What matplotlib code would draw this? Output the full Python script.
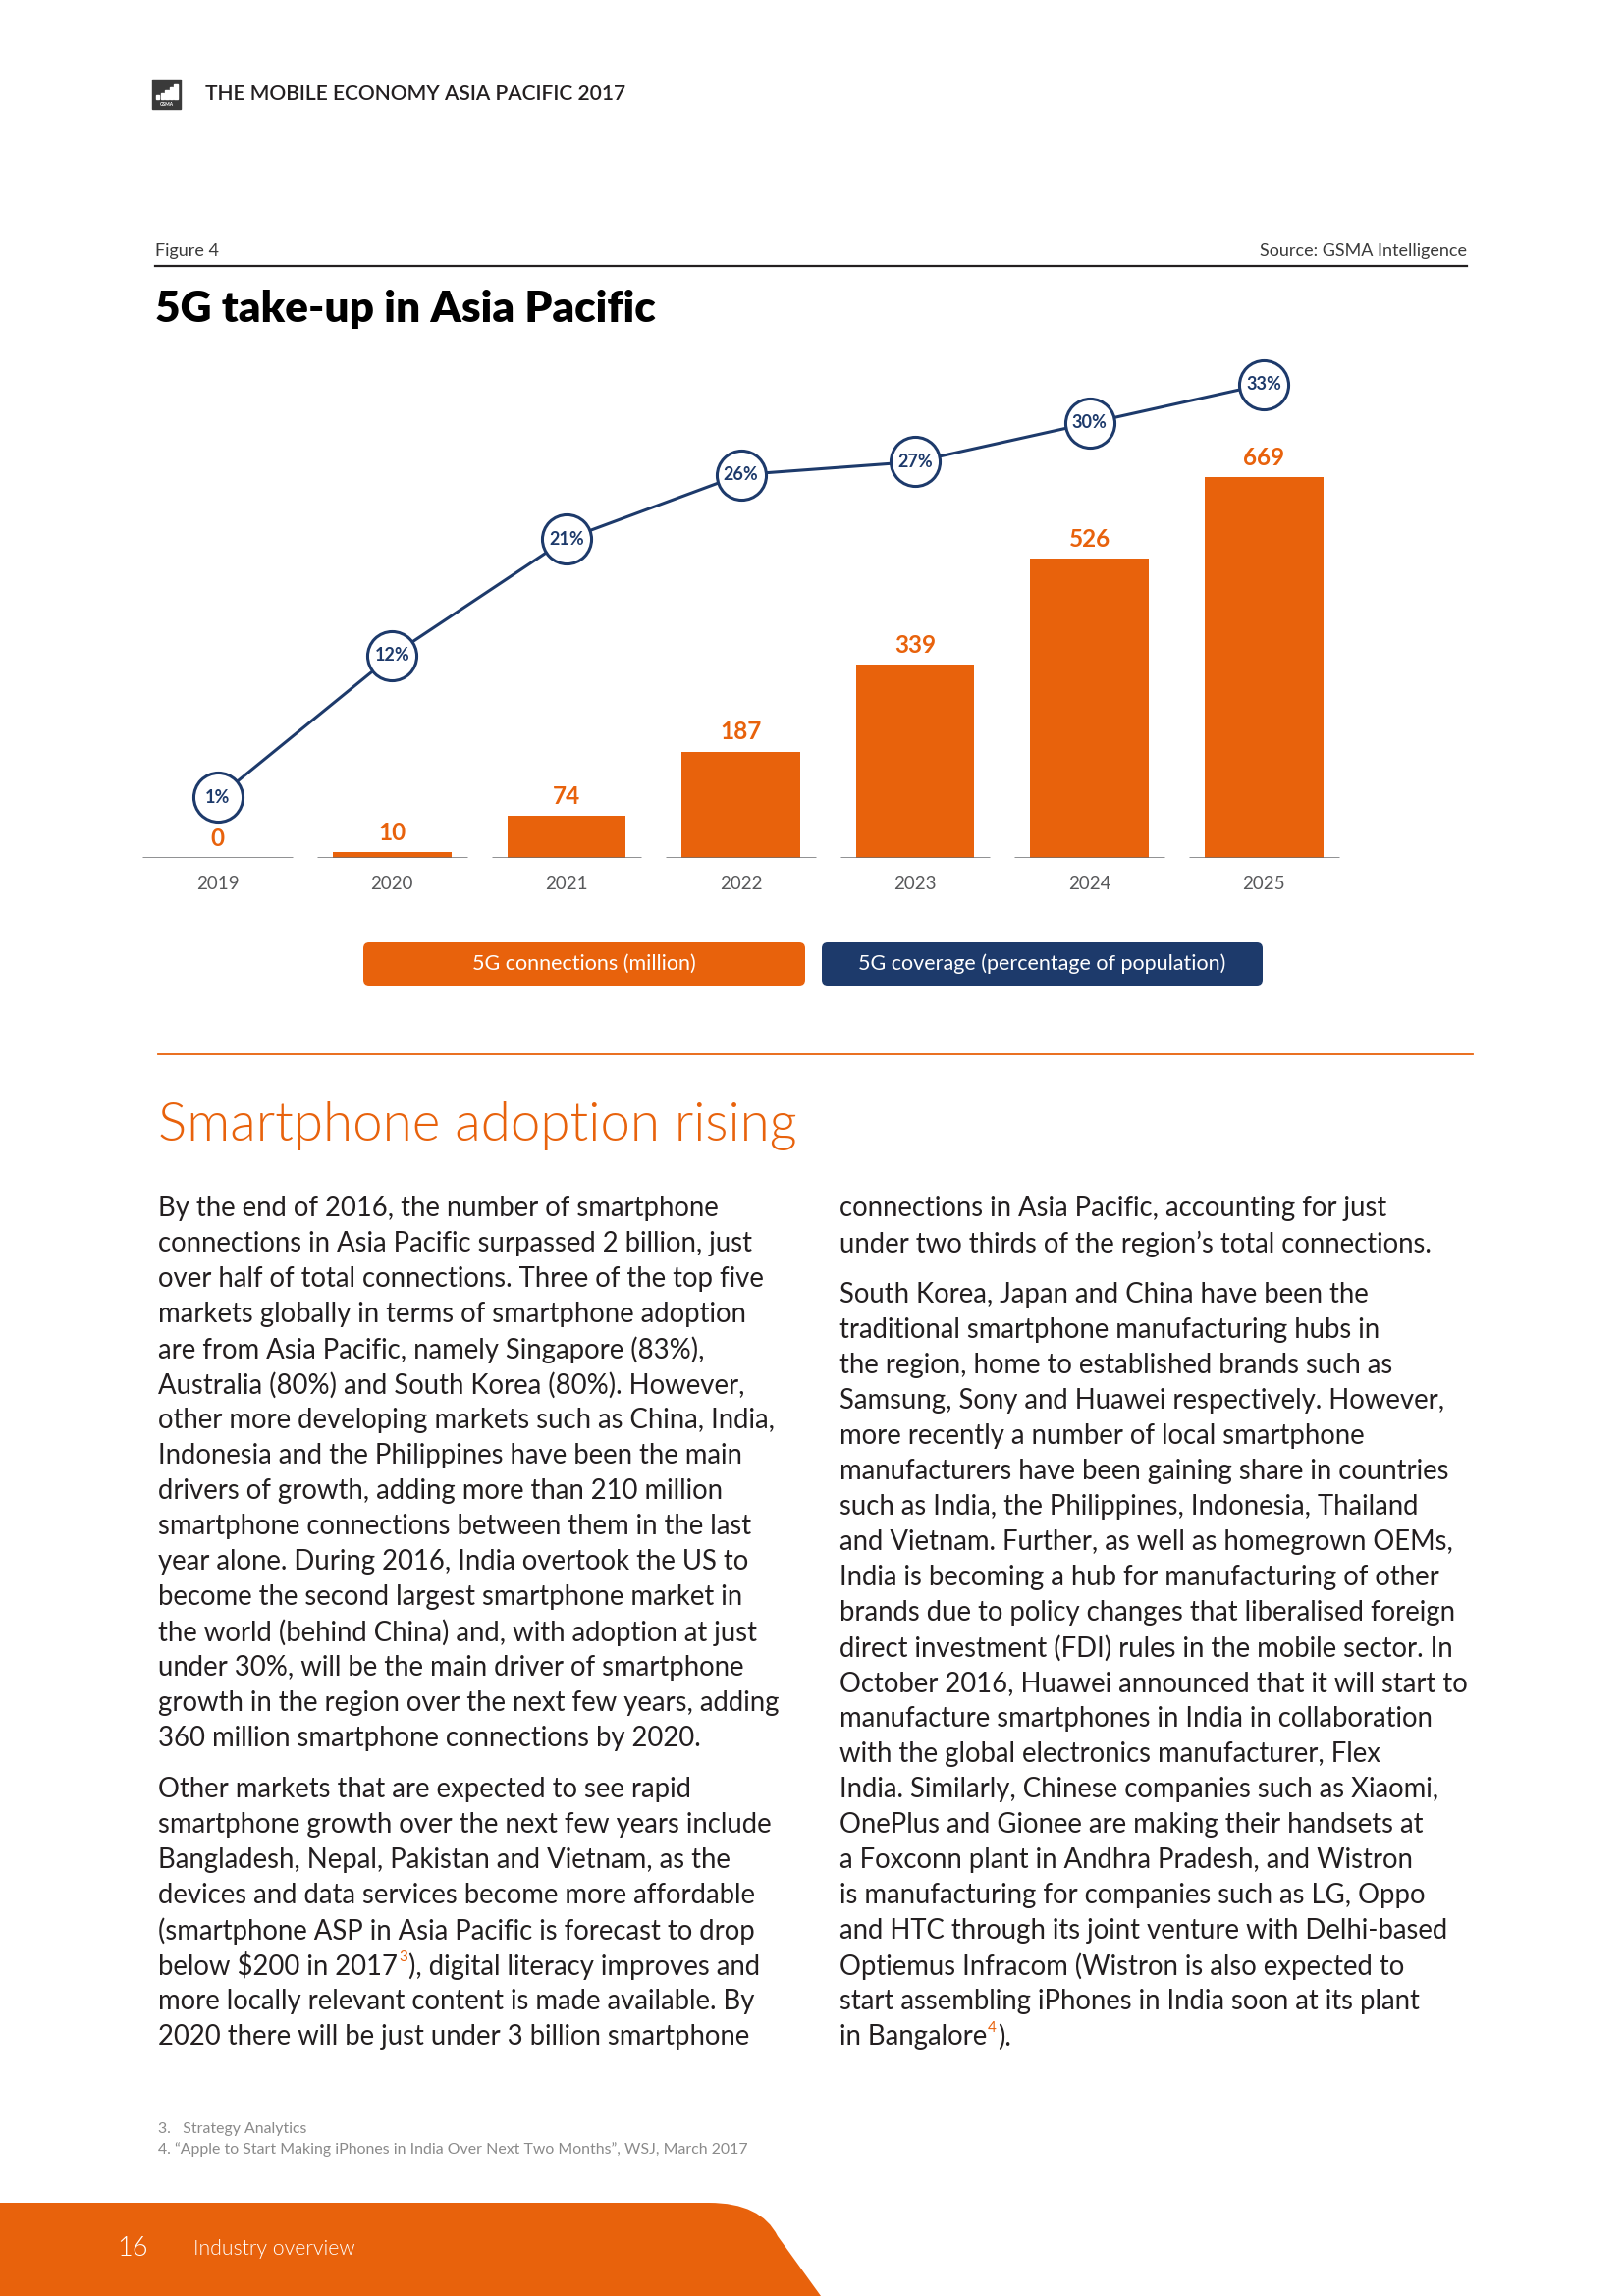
import matplotlib.pyplot as plt
from matplotlib.patches import FancyBboxPatch, Rectangle, PathPatch
from matplotlib.path import Path

# chart data
years = ["2019", "2020", "2021", "2022", "2023", "2024", "2025"]
connections = [0, 10, 74, 187, 339, 526, 669]        # million
coverage = [1, 12, 21, 26, 27, 30, 33]               # % of population

series_names = ["5G connections (million)", "5G coverage (percentage of population)"]

left_col = [
    "By the end of 2016, the number of smartphone",
    "connections in Asia Pacific surpassed 2 billion, just",
    "over half of total connections. Three of the top five",
    "markets globally in terms of smartphone adoption",
    "are from Asia Pacific, namely Singapore (83%),",
    "Australia (80%) and South Korea (80%). However,",
    "other more developing markets such as China, India,",
    "Indonesia and the Philippines have been the main",
    "drivers of growth, adding more than 210 million",
    "smartphone connections between them in the last",
    "year alone. During 2016, India overtook the US to",
    "become the second largest smartphone market in",
    "the world (behind China) and, with adoption at just",
    "under 30%, will be the main driver of smartphone",
    "growth in the region over the next few years, adding",
    "360 million smartphone connections by 2020.",
    None,
    "Other markets that are expected to see rapid",
    "smartphone growth over the next few years include",
    "Bangladesh, Nepal, Pakistan and Vietnam, as the",
    "devices and data services become more affordable",
    "(smartphone ASP in Asia Pacific is forecast to drop",
    ("below $200 in 2017", "3", "), digital literacy improves and"),
    "more locally relevant content is made available. By",
    "2020 there will be just under 3 billion smartphone",
]

right_col = [
    "connections in Asia Pacific, accounting for just",
    "under two thirds of the region\u2019s total connections.",
    None,
    "South Korea, Japan and China have been the",
    "traditional smartphone manufacturing hubs in",
    "the region, home to established brands such as",
    "Samsung, Sony and Huawei respectively. However,",
    "more recently a number of local smartphone",
    "manufacturers have been gaining share in countries",
    "such as India, the Philippines, Indonesia, Thailand",
    "and Vietnam. Further, as well as homegrown OEMs,",
    "India is becoming a hub for manufacturing of other",
    "brands due to policy changes that liberalised foreign",
    "direct investment (FDI) rules in the mobile sector. In",
    "October 2016, Huawei announced that it will start to",
    "manufacture smartphones in India in collaboration",
    "with the global electronics manufacturer, Flex",
    "India. Similarly, Chinese companies such as Xiaomi,",
    "OnePlus and Gionee are making their handsets at",
    "a Foxconn plant in Andhra Pradesh, and Wistron",
    "is manufacturing for companies such as LG, Oppo",
    "and HTC through its joint venture with Delhi-based",
    "Optiemus Infracom (Wistron is also expected to",
    "start assembling iPhones in India soon at its plant",
    ("in Bangalore", "4", ")."),
]

footnotes = [
    "3.   Strategy Analytics",
    "4. \u201cApple to Start Making iPhones in India Over Next Two Months\u201d, WSJ, March 2017",
]

ORANGE = "#e8620c"
NAVY = "#1d3a6b"
DARK = "#231f20"
GREY = "#6d6e71"
BODY = 19.8

plt.rcParams["font.family"] = ["Lato", "DejaVu Sans"]

W, H = 1654, 2339
fig = plt.figure(figsize=(W / 100, H / 100), dpi=100)
page = fig.add_axes([0, 0, 1, 1])
page.set_xlim(0, W)
page.set_ylim(H, 0)
page.axis("off")

# header
page.add_patch(Rectangle((155, 81), 29, 30, color="#3a3a3a"))
for i, hgt in enumerate([4, 6, 9, 12, 15]):
    page.add_patch(Rectangle((159 + i * 4.6, 101 - hgt), 3.4, hgt, color="white"))
page.text(169.5, 106, "GSMA", fontsize=3.5, color="white", ha="center", va="center", fontweight="bold")
page.text(209, 96, "THE MOBILE ECONOMY ASIA PACIFIC 2017", fontsize=15.1, color=DARK,
          va="center", fontweight="semibold")

page.text(158, 256, "Figure 4", fontsize=13, color="#3a3a3a", va="center")
page.text(1494, 256, "Source: GSMA Intelligence", fontsize=13, color="#3a3a3a", va="center", ha="right")
page.plot([158, 1494], [271, 271], color=DARK, lw=1.6)
page.text(158, 315, "5G take-up in Asia Pacific", fontsize=31.8, color="black", va="center",
          fontweight="heavy")

# chart
ax = fig.add_axes([133 / W, 1 - 874 / H, (1376 - 133) / W, (874 - 360) / H])
xs = list(range(len(years)))
ax.bar(xs, connections, width=0.68, color=ORANGE, zorder=2)
for x in xs:
    ax.plot([x - 0.43, x + 0.43], [0, 0], color=GREY, lw=1.8, zorder=3, solid_capstyle="butt")
for x, v in zip(xs, connections):
    ax.annotate(str(v), (x, v), xytext=(0, 6), textcoords="offset points", ha="center",
                va="bottom", fontsize=17.5, color=ORANGE, fontweight="bold")
ax.set_xlim(-0.5, len(years) - 0.5)
ax.set_ylim(0, 886)
ax.set_xticks(xs, years)
ax.tick_params(axis="x", length=0, pad=13, labelsize=13.5, labelcolor="#58595b")
ax.set_yticks([])
for s in ax.spines.values():
    s.set_visible(False)
ax.patch.set_alpha(0)

ax2 = ax.twinx()
ax2.plot(xs, coverage, color=NAVY, lw=2.2, zorder=2)
ax2.scatter(xs, coverage, s=1300, facecolor="white", edgecolor=NAVY, linewidth=2.2, zorder=3)
for x, p in zip(xs, coverage):
    ax2.text(x, p, f"{p}%", ha="center", va="center", fontsize=13, color=NAVY,
             fontweight="bold", zorder=4)
ax2.set_ylim(-3.7, 35.4)
ax2.set_yticks([])
for s in ax2.spines.values():
    s.set_visible(False)

# legend boxes
for (x0, x1), name, col in zip([(370, 820), (837, 1286)], series_names, [ORANGE, NAVY]):
    page.add_patch(FancyBboxPatch((x0, 960), x1 - x0, 44, boxstyle="round,pad=0,rounding_size=6",
                                  color=col, lw=0))
    page.text((x0 + x1) / 2, 982, name, ha="center", va="center", fontsize=15.5, color="white")

# section
page.plot([161, 1500], [1074, 1074], color=ORANGE, lw=1.3)
page.text(161, 1147, "Smartphone adoption rising", fontsize=39.3, color=ORANGE, va="center",
          fontweight=300)

renderer = fig.canvas.get_renderer()


def draw_column(lines, x, y0):
    y = y0
    for line in lines:
        if line is None:
            y += 16
            continue
        if isinstance(line, tuple):
            before, sup, after = line
            t = page.text(x, y, before, fontsize=BODY, color=DARK, va="center", parse_math=False)
            bb = t.get_window_extent(renderer)
            t2 = page.text(bb.x1 + 1, y - 9, sup, fontsize=11, color=ORANGE, va="center")
            bb2 = t2.get_window_extent(renderer)
            page.text(bb2.x1 + 1, y, after, fontsize=BODY, color=DARK, va="center")
        else:
            page.text(x, y, line, fontsize=BODY, color=DARK, va="center", parse_math=False)
        y += 36


draw_column(left_col, 161, 1231)
draw_column(right_col, 855, 1231)

page.text(161, 2169, footnotes[0], fontsize=11.4, color="#8a8a8a", va="center")
page.text(161, 2190, footnotes[1], fontsize=11.4, color="#8a8a8a", va="center")

# footer band
verts = [(0, 2244), (722, 2244), (775, 2244), (792, 2278), (836, 2339), (0, 2339), (0, 2244)]
codes = [Path.MOVETO, Path.LINETO, Path.CURVE3, Path.CURVE3, Path.LINETO, Path.LINETO, Path.CLOSEPOLY]
page.add_patch(PathPatch(Path(verts, codes), facecolor=ORANGE, edgecolor="none"))
page.text(119, 2291, "16", fontsize=19.5, color="white", va="center", fontweight=300)
page.text(197, 2291, "Industry overview", fontsize=15.3, color="white", va="center", fontweight=300)

fig.savefig("out.png", dpi=100)
